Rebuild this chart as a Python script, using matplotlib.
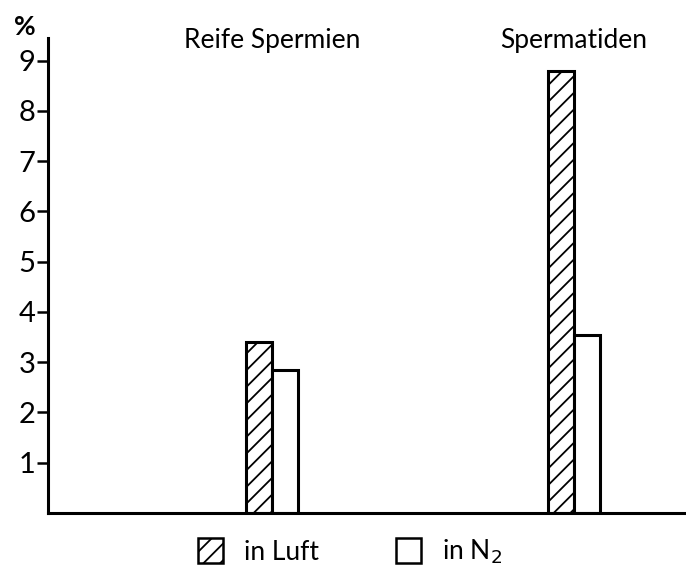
import matplotlib
matplotlib.use("Agg")
import matplotlib.pyplot as plt
from matplotlib.patches import Patch
import numpy as np

groups = ["Reife Spermien", "Spermatiden"]
luft = [3.4, 8.8]
n2 = [2.85, 3.55]
yticks = [1, 2, 3, 4, 5, 6, 7, 8, 9]

plt.rcParams['font.family'] = ['Lato', 'DejaVu Sans']
plt.rcParams['hatch.linewidth'] = 1.3

fig = plt.figure(figsize=(6.86, 5.78), dpi=100)
ax = fig.add_axes([48 / 686, 65 / 578, 638 / 686, 475 / 578])

x = np.arange(1, len(groups) + 1)
w = 0.086
ax.bar(x - w / 2, luft, w, facecolor='white', edgecolor='black', lw=2.2, hatch='//')
ax.bar(x + w / 2, n2, w, facecolor='white', edgecolor='black', lw=2.2)

ax.set_xlim(0.258, 2.371)
ax.set_ylim(0, 9.45)
ax.set_xticks([])
ax.set_yticks(yticks)
ax.set_yticklabels([str(t) for t in yticks], fontsize=21)
ax.tick_params(axis='y', length=8, width=1.8, pad=1)
for s in ['top', 'right']:
    ax.spines[s].set_visible(False)
for s in ['left', 'bottom']:
    ax.spines[s].set_linewidth(2.2)

for xi, g in zip(x, groups):
    ax.text(xi, 9.4, g, ha='center', va='center', fontsize=19)

fig.text(25 / 686, 1 - 27 / 578, '%', ha='center', va='center', fontsize=19, fontweight='bold')

handles = [Patch(facecolor='white', edgecolor='black', lw=1.8, hatch='//', label='in Luft'),
           Patch(facecolor='white', edgecolor='black', lw=1.8, label='in N$_2$')]
fig.legend(handles=handles, loc='center', bbox_to_anchor=(0.51, 1 - 552 / 578), ncol=2,
           frameon=False, fontsize=19, handlelength=0.95, handleheight=1.1,
           handletextpad=0.8, columnspacing=2.9)

fig.savefig('out.png', dpi=100)
